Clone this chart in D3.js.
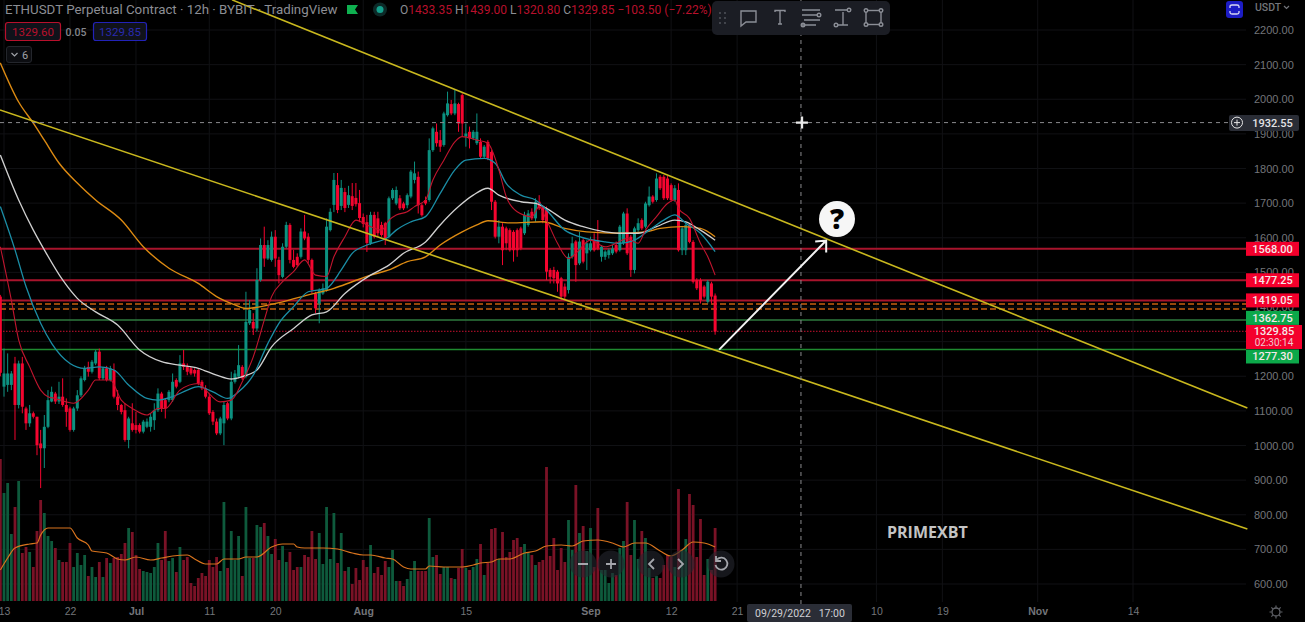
<!DOCTYPE html>
<html>
<head>
<meta charset="utf-8">
<style>
	html, body { margin: 0; padding: 0; background: #000; overflow: hidden; }
	svg { display: block; font-family: Roboto, sans-serif; }
	.domain { display: none; }
</style>
<script src="https://cdn.jsdelivr.net/npm/d3@7/dist/d3.min.js"></script>
</head>
<body>
<div id="chart"></div>
<script>
// candles, first one is the half day before Jun 13
var opens = [1430,
	1170,1175,1175,1237,1117,1237,1107,1064,1093,1083,
	1006,992,1054,1127,1150,1127,1141,1117,1107,1045,
	1107,1145,1189,1227,1213,1237,1271,1194,1223,1189,
	1218,1141,1117,1102,1016,1064,1059,1059,1040,1054,
	1054,1073,1102,1150,1131,1131,1131,1189,1184,1237,
	1227,1223,1218,1218,1184,1165,1141,1097,1069,1035,
	1064,1122,1078,1184,1199,1227,1199,1353,1357,1338,
	1478,1579,1540,1536,1603,1536,1487,1574,1637,1536,
	1545,1545,1618,1603,1536,1439,1410,1439,1449,1622,
	1695,1752,1692,1732,1695,1720,1715,1700,1660,1645,
	1584,1666,1656,1637,1642,1603,1714,1699,1714,1699,
	1694,1719,1767,1776,1694,1709,1709,1853,1906,1882,
	1868,1954,1986,1959,1986,2012,1892,1906,1887,1873,
	1877,1834,1877,1848,1704,1603,1632,1627,1622,1617,
	1622,1627,1613,1637,1675,1656,1704,1690,1680,1507,
	1507,1502,1483,1459,1449,1545,1589,1526,1593,1555,
	1564,1593,1593,1545,1545,1550,1555,1579,1564,1584,
	1670,1603,1507,1622,1651,1632,1694,1719,1709,1776,
	1776,1771,1752,1709,1738,1564,1564,1637,1588,1478,
	1478,1459,1415,1468,1433];
var closes = [1210,
	1208,1208,1208,1117,1237,1112,1064,1093,1083,1001,
	992,1054,1131,1155,1127,1141,1117,1097,1045,1107,
	1145,1194,1223,1213,1242,1271,1194,1223,1189,1223,
	1141,1117,1097,1016,1078,1045,1045,1040,1069,1069,
	1083,1102,1150,1107,1107,1155,1184,1170,1237,1227,
	1213,1208,1208,1179,1165,1141,1093,1069,1035,1078,
	1117,1078,1184,1208,1232,1194,1357,1391,1338,1478,
	1579,1540,1579,1603,1540,1492,1574,1637,1536,1516,
	1521,1618,1598,1536,1449,1396,1449,1454,1632,1675,
	1767,1680,1744,1686,1723,1692,1697,1657,1640,1585,
	1666,1603,1613,1608,1598,1714,1738,1738,1685,1685,
	1723,1791,1786,1694,1665,1699,1853,1916,1873,1863,
	1959,1988,1959,1988,1930,1930,1901,1887,1906,1906,
	1834,1863,1829,1704,1603,1632,1564,1584,1564,1564,
	1564,1569,1666,1670,1656,1704,1685,1651,1502,1487,
	1483,1468,1430,1430,1545,1584,1521,1589,1531,1584,
	1584,1564,1569,1574,1560,1564,1569,1560,1632,1670,
	1555,1507,1627,1642,1627,1699,1719,1704,1771,1743,
	1714,1714,1709,1743,1564,1627,1637,1588,1473,1454,
	1420,1430,1473,1430,1329];
var highs = [1435,
	1280,1266,1215,1256,1245,1256,1112,1117,1098,1083,
	1045,1088,1160,1170,1155,1184,1194,1136,1112,1112,
	1160,1200,1230,1242,1247,1276,1280,1227,1230,1230,
	1237,1160,1120,1122,1083,1122,1097,1064,1074,1078,
	1093,1122,1165,1155,1135,1160,1208,1194,1261,1276,
	1237,1227,1223,1223,1189,1174,1150,1102,1078,1083,
	1126,1126,1213,1218,1290,1232,1444,1420,1382,1512,
	1598,1632,1593,1618,1622,1545,1584,1646,1642,1565,
	1555,1627,1666,1613,1540,1444,1454,1468,1656,1685,
	1787,1787,1767,1744,1750,1758,1758,1738,1670,1666,
	1675,1675,1675,1646,1646,1719,1743,1748,1723,1704,
	1728,1796,1820,1791,1699,1719,1887,1921,1930,1911,
	1964,2022,1998,2027,1990,2017,1930,1921,1911,1959,
	1887,1868,1882,1853,1709,1651,1642,1632,1627,1622,
	1627,1632,1675,1680,1685,1714,1723,1694,1690,1512,
	1516,1507,1487,1468,1555,1603,1593,1617,1598,1593,
	1603,1613,1651,1579,1564,1569,1579,1589,1637,1675,
	1685,1608,1632,1656,1656,1704,1748,1723,1786,1781,
	1781,1778,1757,1752,1757,1632,1642,1642,1593,1483,
	1483,1463,1478,1473,1439];
var lows = [1200,
	1141,1155,1160,1016,1107,1093,1045,1054,1078,972,
	877,935,1050,1125,1120,1120,1112,1054,1040,1040,
	1100,1140,1185,1199,1208,1232,1189,1189,1185,1185,
	1136,1102,1090,1011,992,1040,1035,1035,1035,1050,
	1040,1045,1097,1097,1078,1125,1126,1165,1180,1218,
	1203,1203,1199,1174,1160,1136,1088,1059,1030,1030,
	1001,1073,1073,1179,1194,1189,1194,1348,1319,1329,
	1473,1516,1536,1531,1516,1468,1483,1569,1526,1512,
	1516,1540,1593,1526,1439,1382,1353,1435,1444,1618,
	1674,1671,1680,1674,1686,1680,1690,1645,1630,1559,
	1579,1598,1603,1603,1579,1598,1709,1694,1680,1680,
	1685,1714,1757,1670,1661,1694,1704,1848,1863,1848,
	1863,1950,1954,1954,1906,1892,1863,1858,1882,1868,
	1829,1829,1824,1680,1598,1584,1521,1564,1560,1531,
	1545,1564,1608,1632,1651,1646,1680,1642,1478,1468,
	1468,1444,1420,1420,1439,1540,1473,1521,1526,1507,
	1560,1560,1564,1531,1536,1540,1550,1555,1560,1579,
	1550,1487,1497,1617,1622,1627,1690,1699,1704,1738,
	1709,1709,1704,1704,1560,1550,1550,1584,1468,1449,
	1410,1425,1410,1410,1320];
var volumes = [142,
	108,118,67,94,120,48,54,49,34,70,
	101,88,65,60,53,41,39,39,58,34,
	48,36,46,25,34,24,39,24,43,38,
	43,44,47,58,73,69,46,32,30,29,
	28,34,58,41,70,40,43,29,54,41,
	44,18,15,23,28,25,41,34,44,30,
	99,33,70,41,65,25,94,43,43,76,
	74,78,65,47,62,41,55,39,49,31,
	34,34,46,44,70,42,68,37,94,42,
	88,38,68,30,34,17,33,21,41,34,
	56,28,34,26,40,34,51,20,20,15,
	22,30,40,30,30,30,83,44,46,27,
	34,34,23,22,33,52,33,31,34,42,
	57,26,38,72,73,42,69,44,49,61,
	63,54,57,48,46,36,39,41,134,45,
	63,31,53,39,81,51,116,68,75,50,
	73,34,93,31,31,18,28,26,53,60,
	99,46,81,42,70,63,33,23,25,23,
	36,46,44,34,112,51,62,107,96,44,
	82,26,42,31,73];

// moving averages read at a few bars, [bar, price]
var redAvg = [[-1,1574],[2,1420],[4,1305],[7,1227],[10,1160],[12,1141],[14,1136],[17,1126],[19,1122],[23,1160],[25,1189],[29,1189],[32,1131],[35,1107],[39,1088],[42,1107],[44,1107],[48,1160],[53,1179],[55,1160],[59,1126],[62,1131],[65,1184],[68,1256],[71,1362],[73,1430],[76,1473],[79,1502],[82,1536],[85,1492],[88,1488],[90,1545],[93,1603],[96,1651],[99,1637],[103,1622],[105,1651],[107,1666],[110,1675],[112,1690],[115,1709],[117,1767],[120,1824],[123,1877],[125,1892],[129,1882],[132,1873],[135,1796],[137,1719],[140,1675],[144,1661],[146,1690],[148,1651],[151,1584],[154,1540],[156,1555],[160,1593],[164,1574],[167,1584],[170,1598],[173,1584],[175,1622],[178,1661],[181,1699],[183,1709],[184,1685],[187,1656],[190,1584],[192,1545],[194,1492]];
var tealAvg = [[-1,1690],[3,1565],[6,1459],[10,1353],[13,1295],[18,1237],[22,1223],[26,1227],[30,1218],[34,1175],[39,1136],[42,1131],[46,1141],[50,1160],[53,1170],[57,1155],[61,1136],[64,1155],[68,1203],[72,1295],[75,1353],[79,1401],[83,1444],[88,1454],[92,1507],[95,1555],[99,1579],[105,1603],[107,1622],[111,1646],[115,1661],[119,1728],[123,1796],[126,1824],[131,1829],[134,1815],[137,1757],[141,1723],[145,1709],[148,1680],[153,1622],[157,1603],[164,1588],[168,1584],[172,1593],[176,1622],[180,1651],[183,1666],[186,1642],[190,1613],[194,1560]];
var whiteAvg = [[-1,1839],[4,1709],[8,1622],[11,1565],[16,1478],[20,1425],[25,1386],[31,1348],[37,1276],[43,1242],[48,1232],[53,1223],[58,1203],[62,1192],[65,1199],[69,1218],[73,1285],[79,1338],[84,1377],[88,1386],[93,1439],[100,1492],[105,1521],[109,1555],[115,1588],[119,1637],[124,1690],[128,1723],[132,1743],[135,1723],[141,1704],[145,1699],[148,1685],[153,1651],[158,1632],[164,1617],[168,1613],[173,1613],[178,1632],[183,1651],[186,1646],[190,1622],[194,1593]];
var orangeAvg = [[-1,2105],[4,1992],[8,1931],[11,1882],[15,1816],[20,1758],[25,1709],[32,1651],[38,1574],[45,1512],[53,1468],[58,1430],[63,1406],[66,1396],[69,1399],[76,1415],[83,1435],[90,1454],[95,1473],[100,1492],[105,1507],[110,1531],[115,1545],[119,1579],[125,1617],[129,1637],[132,1649],[138,1643],[147,1646],[153,1627],[159,1617],[168,1613],[175,1617],[179,1627],[185,1632],[190,1627],[194,1603]];
var volumeAvg = [[-1,31],[1,43],[3,53],[7,57],[9,58],[10,66],[12,73],[15,73],[18,73],[20,63],[23,56],[24,50],[28,48],[31,42],[33,41],[36,44],[40,41],[43,43],[46,45],[50,46],[52,42],[55,37],[58,37],[60,42],[64,42],[66,44],[69,44],[73,54],[76,57],[79,57],[80,54],[82,53],[85,53],[87,53],[91,52],[95,48],[98,46],[100,46],[104,43],[106,42],[109,34],[111,32],[115,32],[116,35],[120,34],[125,34],[128,36],[130,38],[133,39],[135,42],[138,42],[142,48],[145,50],[148,55],[152,56],[155,55],[158,60],[162,61],[166,58],[169,54],[172,58],[175,58],[179,50],[182,45],[185,51],[188,59],[191,58],[194,54]];

// drawings on the chart, [bar, price]
var upperTrend = [[62.2,2287],[339.2,1108]];
var lowerTrend = [[-1.1,1969],[339.2,759]];
var arrowLine = [[195.1,1277],[224.3,1592]];
var levelPrices = [1568, 1477.25, 1419.05, 1362.75, 1277.3];
var levelLabels = ["1568.00", "1477.25", "1419.05", "1362.75", "1277.30"];
var orangeLevels = [1409, 1394];
var lastPrice = 1329.85;
var crossPrice = 1932.55;
var crossDate = new Date(Date.UTC(2022, 8, 29, 17));

var priceTicks = d3.range(600, 2201, 100);
var dateTicks = [
	new Date(Date.UTC(2022, 5, 13)), new Date(Date.UTC(2022, 5, 22)), new Date(Date.UTC(2022, 6, 1)),
	new Date(Date.UTC(2022, 6, 11)), new Date(Date.UTC(2022, 6, 20)), new Date(Date.UTC(2022, 7, 1)),
	new Date(Date.UTC(2022, 7, 15)), new Date(Date.UTC(2022, 8, 1)), new Date(Date.UTC(2022, 8, 12)),
	new Date(Date.UTC(2022, 8, 21)), new Date(Date.UTC(2022, 9, 10)), new Date(Date.UTC(2022, 9, 19)),
	new Date(Date.UTC(2022, 10, 1)), new Date(Date.UTC(2022, 10, 14)),
];
var dateLabels = ["13", "22", "Jul", "11", "20", "Aug", "15", "Sep", "12", "21", "10", "19", "Nov", "14"];
var boldLabels = ["Jul", "Aug", "Sep", "Nov"];

var width = 1305;
var height = 622;
var plotRight = 1246;
var plotBottom = 602;

var upColor = "#0c9180";
var downColor = "#f5052f";
var tagRed = "#f4002c";
var tagGreen = "#0ca84a";

var svg = d3
	.select("#chart")
	.append("svg")
	.attr("width", width)
	.attr("height", height);

svg.append("rect").attr("width", width).attr("height", height).attr("fill", "#000");

var xScale = d3
	.scaleUtc()
	.domain([dateTicks[0], dateTicks[dateTicks.length - 1]])
	.range([4, 1133]);
var yScale = d3.scaleLinear().domain([600, 2200]).range([584, 30]);
var volScale = d3.scaleLinear().domain([0, 140]).range([601, 461]);

// bar number counts half days from Jun 13
function barDate(bar) {
	return new Date(dateTicks[0].getTime() + bar * 12 * 3600 * 1000);
}
function barX(bar) {
	return xScale(barDate(bar));
}

var candles = opens.map((open, n) => ({
	bar: n - 1,
	open: open,
	close: closes[n],
	high: highs[n],
	low: lows[n],
	volume: volumes[n],
}));

// faint grid
var gridGroup = svg.append("g").attr("stroke", "#101114").attr("stroke-width", 1);
gridGroup
	.selectAll("line.h")
	.data(priceTicks)
	.enter()
	.append("line")
	.attr("class", "h")
	.attr("x1", 0)
	.attr("x2", plotRight)
	.attr("y1", (d) => yScale(d))
	.attr("y2", (d) => yScale(d));
gridGroup
	.selectAll("line.v")
	.data(dateTicks)
	.enter()
	.append("line")
	.attr("class", "v")
	.attr("x1", (d) => xScale(d))
	.attr("x2", (d) => xScale(d))
	.attr("y1", 0)
	.attr("y2", plotBottom);

// volume bars and their average
svg
	.append("g")
	.selectAll("rect")
	.data(candles)
	.enter()
	.append("rect")
	.attr("x", (d) => barX(d.bar) - 1.4)
	.attr("width", 2.8)
	.attr("y", (d) => volScale(d.volume))
	.attr("height", (d) => volScale(0) - volScale(d.volume))
	.attr("fill", (d) => (d.close >= d.open ? "#0e5a3c" : "#7a1226"));

var avgLine = d3
	.line()
	.x((d) => barX(d[0]))
	.y((d) => yScale(d[1]))
	.curve(d3.curveMonotoneX);

svg
	.append("path")
	.attr("fill", "none")
	.attr("stroke", "#d9741e")
	.attr("stroke-width", 1.2)
	.attr(
		"d",
		d3
			.line()
			.x((d) => barX(d[0]))
			.y((d) => volScale(d[1]))
			.curve(d3.curveMonotoneX)(volumeAvg)
	);

// level lines, the green ones are the last two
var levelGroup = svg.append("g");
levelGroup
	.selectAll("line")
	.data(levelPrices)
	.enter()
	.append("line")
	.attr("x1", 0)
	.attr("x2", plotRight)
	.attr("y1", (d) => yScale(d))
	.attr("y2", (d) => yScale(d))
	.attr("stroke", (d, i) => (i < 3 ? "#a8142c" : i == 3 ? "#2e7a3e" : "#1f8a30"))
	.attr("stroke-width", (d, i) => (i < 3 ? 2 : 1.5));
orangeLevels.forEach((level) => {
	levelGroup
		.append("line")
		.attr("x1", 0)
		.attr("x2", plotRight)
		.attr("y1", yScale(level))
		.attr("y2", yScale(level))
		.attr("stroke", "#c8600f")
		.attr("stroke-width", 1.5)
		.attr("stroke-dasharray", "6,3");
});
levelGroup
	.append("line")
	.attr("x1", 0)
	.attr("x2", plotRight)
	.attr("y1", yScale(lastPrice))
	.attr("y2", yScale(lastPrice))
	.attr("stroke", "#c8102e")
	.attr("stroke-width", 1)
	.attr("stroke-dasharray", "1.5,1.5");

// candles
var candleGroup = svg.append("g");
candleGroup
	.selectAll("line")
	.data(candles)
	.enter()
	.append("line")
	.attr("x1", (d) => barX(d.bar))
	.attr("x2", (d) => barX(d.bar))
	.attr("y1", (d) => yScale(d.high))
	.attr("y2", (d) => yScale(d.low))
	.attr("stroke", (d) => (d.close >= d.open ? upColor : downColor))
	.attr("stroke-width", 1);
candleGroup
	.selectAll("rect")
	.data(candles)
	.enter()
	.append("rect")
	.attr("x", (d) => barX(d.bar) - 1.5)
	.attr("width", 3)
	.attr("y", (d) => yScale(Math.max(d.open, d.close)))
	.attr("height", (d) => Math.max(1, Math.abs(yScale(d.open) - yScale(d.close))))
	.attr("fill", (d) => (d.close >= d.open ? upColor : downColor));

// moving averages
[
	[orangeAvg, "#dc8a12", 1.4],
	[whiteAvg, "#d0d0d0", 1.3],
	[tealAvg, "#1b8ea6", 1.3],
	[redAvg, "#c0152e", 1.1],
].forEach((item) => {
	svg
		.append("path")
		.attr("fill", "none")
		.attr("stroke", item[1])
		.attr("stroke-width", item[2])
		.attr("d", avgLine(item[0]));
});

// trend lines
[upperTrend, lowerTrend].forEach((trend) => {
	svg
		.append("path")
		.attr("fill", "none")
		.attr("stroke", "#c9b81e")
		.attr("stroke-width", 1.6)
		.attr("d", d3.line().x((d) => barX(d[0])).y((d) => yScale(d[1]))(trend));
});

// crosshair
var crossX = xScale(crossDate);
var crossY = yScale(crossPrice);
var crossGroup = svg
	.append("g")
	.attr("stroke", "#8a8a8e")
	.attr("stroke-width", 1)
	.attr("stroke-dasharray", "4,4");
crossGroup.append("line").attr("x1", 0).attr("x2", 1228).attr("y1", crossY).attr("y2", crossY);
crossGroup.append("line").attr("x1", crossX).attr("x2", crossX).attr("y1", 0).attr("y2", plotBottom + 2);
svg
	.append("path")
	.attr("d", `M${crossX - 5},${crossY}H${crossX + 7}M${crossX + 1},${crossY - 6}V${crossY + 6}`)
	.attr("stroke", "#e8e8e8")
	.attr("stroke-width", 2.4);

// arrow with question mark
var arrowFrom = [barX(arrowLine[0][0]), yScale(arrowLine[0][1])];
var arrowTo = [barX(arrowLine[1][0]), yScale(arrowLine[1][1])];
svg
	.append("path")
	.attr("fill", "none")
	.attr("stroke", "#f2f2f2")
	.attr("stroke-width", 2)
	.attr(
		"d",
		`M${arrowFrom[0]},${arrowFrom[1]}L${arrowTo[0]},${arrowTo[1]}` +
			`M${arrowTo[0] - 11},${arrowTo[1] + 1}L${arrowTo[0]},${arrowTo[1]}L${arrowTo[0]},${arrowTo[1] + 12}`
	);
svg.append("circle").attr("cx", 837).attr("cy", 219).attr("r", 18).attr("fill", "#f6f6f6");
svg
	.append("text")
	.attr("x", 837)
	.attr("y", 229)
	.attr("text-anchor", "middle")
	.attr("font-size", 28)
	.attr("font-weight", 900)
	.attr("font-family", "'Open Sans', sans-serif")
	.attr("fill", "#000")
	.text("?");

svg
	.append("text")
	.attr("x", 887)
	.attr("y", 538)
	.attr("font-size", 16)
	.attr("font-weight", 700)
	.attr("font-family", "'Open Sans', sans-serif")
	.attr("fill", "#c4c4c4")
	.text("PRIMEXBT");

// axes, 1300 sits fully under the last price tag
var yAxis = svg
	.append("g")
	.attr("transform", "translate(1254,0)")
	.call(
		d3
			.axisRight(yScale)
			.tickValues(priceTicks.filter((d) => d != 1300))
			.tickSize(0)
			.tickPadding(0)
			.tickFormat(d3.format(".2f"))
	);
yAxis.selectAll("text").attr("fill", "#73757a").attr("font-size", 11);

var xAxis = svg
	.append("g")
	.attr("transform", "translate(0,602)")
	.call(
		d3
			.axisBottom(xScale)
			.tickValues(dateTicks)
			.tickSize(0)
			.tickPadding(6)
			.tickFormat((d, i) => dateLabels[i])
	);
xAxis
	.selectAll("text")
	.attr("fill", "#73757a")
	.attr("font-size", 10.5)
	.attr("font-weight", (d, i) => (boldLabels.indexOf(dateLabels[i]) >= 0 ? 700 : 400));

// price tags, pushed apart like the platform does when they crowd
var tagShift = [0, 0, 0, -2, 7];
levelPrices.forEach((price, i) => {
	var y = yScale(price) + tagShift[i];
	svg
		.append("rect")
		.attr("x", plotRight)
		.attr("y", y - 7)
		.attr("width", 53)
		.attr("height", 14)
		.attr("fill", i < 3 ? tagRed : tagGreen);
	svg
		.append("text")
		.attr("x", 1272.5)
		.attr("y", y + 4)
		.attr("text-anchor", "middle")
		.attr("font-size", 11)
		.attr("font-weight", 500)
		.attr("fill", "#f4e8ea")
		.text(levelLabels[i]);
});

svg.append("rect").attr("x", plotRight).attr("y", 325).attr("width", 56).attr("height", 24).attr("fill", tagRed);
svg
	.append("text")
	.attr("x", 1274)
	.attr("y", 335)
	.attr("text-anchor", "middle")
	.attr("font-size", 11)
	.attr("font-weight", 500)
	.attr("fill", "#f4e8ea")
	.text("1329.85");
svg
	.append("text")
	.attr("x", 1274)
	.attr("y", 346)
	.attr("text-anchor", "middle")
	.attr("font-size", 10)
	.attr("fill", "#f0c8d0")
	.text("02:30:14");

// crosshair tag
svg.append("rect").attr("x", 1229).attr("y", 115).attr("width", 70).attr("height", 16).attr("rx", 2).attr("fill", "#2a2d36");
svg.append("circle").attr("cx", 1237).attr("cy", crossY).attr("r", 5.5).attr("fill", "none").attr("stroke", "#e6e6e6").attr("stroke-width", 1);
svg
	.append("path")
	.attr("d", `M1234,${crossY}H1240M1237,${crossY - 3}V${crossY + 3}`)
	.attr("stroke", "#e6e6e6");
svg
	.append("text")
	.attr("x", 1272.5)
	.attr("y", crossY + 4)
	.attr("text-anchor", "middle")
	.attr("font-size", 11)
	.attr("font-weight", 500)
	.attr("fill", "#e4e4e6")
	.text("1932.55");

// date tag
svg.append("rect").attr("x", 747).attr("y", 604).attr("width", 105).attr("height", 18).attr("rx", 2).attr("fill", "#2a2d36");
svg
	.append("text")
	.attr("x", 755)
	.attr("y", 617)
	.attr("font-size", 10.5)
	.attr("fill", "#d0d0d4")
	.attr("xml:space", "preserve")
	.text("09/29/2022   17:00");

// header
svg
	.append("text")
	.attr("x", 5)
	.attr("y", 14)
	.attr("font-size", 13.3)
	.attr("fill", "#8c8e94")
	.text("ETHUSDT Perpetual Contract · 12h · BYBIT · TradingView");
svg.append("path").attr("d", "M347,5H358L355,9.5L358,14H347Z").attr("fill", "#0fb050");
svg.append("circle").attr("cx", 380).attr("cy", 9.5).attr("r", 7).attr("fill", "#0c2a28");
svg.append("circle").attr("cx", 380).attr("cy", 9.5).attr("r", 3.5).attr("fill", "#14a08c");

var ohlcText = svg
	.append("text")
	.attr("x", 400)
	.attr("y", 14)
	.attr("font-size", 12)
	.attr("fill", "#b8102c");
[
	["O", "#8c8e94"], ["1433.35 ", ""],
	["H", "#8c8e94"], ["1439.00 ", ""],
	["L", "#8c8e94"], ["1320.80 ", ""],
	["C", "#8c8e94"], ["1329.85 ", ""],
	["−103.50 (−7.22%)", ""],
].forEach((part) => {
	var span = ohlcText.append("tspan").text(part[0]);
	if (part[1]) span.attr("fill", part[1]);
});

svg.append("rect").attr("x", 5.5).attr("y", 22.5).attr("width", 55).attr("height", 18).attr("rx", 2.5).attr("fill", "#10121a").attr("stroke", "#b8102c").attr("stroke-width", 1.2);
svg.append("text").attr("x", 33).attr("y", 36).attr("text-anchor", "middle").attr("font-size", 11.5).attr("fill", "#b8102c").text("1329.60");
svg.append("text").attr("x", 76).attr("y", 36).attr("text-anchor", "middle").attr("font-size", 10.5).attr("font-weight", 500).attr("fill", "#84868c").text("0.05");
svg.append("rect").attr("x", 93.5).attr("y", 22.5).attr("width", 53).attr("height", 18).attr("rx", 2.5).attr("fill", "#10121a").attr("stroke", "#2222b8").attr("stroke-width", 1.2);
svg.append("text").attr("x", 120).attr("y", 36).attr("text-anchor", "middle").attr("font-size", 11.5).attr("fill", "#2a2ab0").text("1329.85");
svg.append("rect").attr("x", 6.5).attr("y", 46.5).attr("width", 25).attr("height", 16).attr("rx", 2.5).attr("fill", "#0c0d11").attr("stroke", "#24262c");
svg.append("path").attr("d", "M11.5,53L14.5,56L17.5,53").attr("fill", "none").attr("stroke", "#a0a2a8").attr("stroke-width", 1.2);
svg.append("text").attr("x", 25).attr("y", 59).attr("text-anchor", "middle").attr("font-size", 11).attr("fill", "#a0a2a8").text("6");

// floating drawing toolbar
var toolbar = svg.append("g").attr("fill", "none").attr("stroke", "#8b8e96").attr("stroke-width", 1.4);
toolbar.append("rect").attr("x", 712).attr("y", 1).attr("width", 178).attr("height", 34).attr("rx", 5).attr("fill", "#1b1d24").attr("stroke", "none");
d3.range(3).forEach((row) => {
	[0, 1].forEach((col) => {
		toolbar.append("circle").attr("cx", 720 + col * 5).attr("cy", 13 + row * 5).attr("r", 0.9).attr("fill", "#555860").attr("stroke", "none");
	});
});
toolbar.append("path").attr("d", "M741,11H756V22H746L741,26Z");
toolbar.append("path").attr("d", "M775,12V10.5H785V12M780,10.5V24M778,24H782");
toolbar.append("path").attr("d", "M802,10H820M802,15H817M804,20H820M802,25H816");
toolbar.append("circle").attr("cx", 819).attr("cy", 15).attr("r", 1.8);
toolbar.append("circle").attr("cx", 803).attr("cy", 25).attr("r", 1.8);
toolbar.append("path").attr("d", "M835,10H847M843,12V25M838,25H848");
toolbar.append("circle").attr("cx", 849).attr("cy", 10).attr("r", 1.8);
toolbar.append("circle").attr("cx", 836).attr("cy", 25).attr("r", 1.8);
toolbar.append("rect").attr("x", 866).attr("y", 10.5).attr("width", 15).attr("height", 14);
[[866, 10.5], [881, 10.5], [866, 24.5], [881, 24.5]].forEach((c) => {
	toolbar.append("circle").attr("cx", c[0]).attr("cy", c[1]).attr("r", 1.8).attr("fill", "#1b1d24");
});

// zoom buttons at the bottom
var buttons = svg.append("g");
[583, 611, 651, 681, 721].forEach((cx) => {
	buttons.append("circle").attr("cx", cx).attr("cy", 564).attr("r", 13.5).attr("fill", "#24262e").attr("fill-opacity", 0.6);
});
buttons
	.append("path")
	.attr("fill", "none")
	.attr("stroke", "#a4a6ac")
	.attr("stroke-width", 1.8)
	.attr(
		"d",
		"M578,564H588M606,564H616M611,559V569M654,559L649,564L654,569M678,559L683,564L678,569" +
			"M717,559.5A6,6 0 1 1 715.5,565M716,556V561H721"
	);

// top right corner
svg.append("rect").attr("x", 1226).attr("y", 1).attr("width", 17).attr("height", 17).attr("rx", 3).attr("fill", "#1c1cc4");
svg
	.append("path")
	.attr("d", "M1230,8V6.5Q1230,5 1232,5H1237Q1239,5 1239,6.5V8M1230,11V12.5Q1230,14 1232,14H1237Q1239,14 1239,12.5V11")
	.attr("fill", "none")
	.attr("stroke", "#d8d8f4")
	.attr("stroke-width", 1.3);
svg.append("text").attr("x", 1255).attr("y", 11).attr("font-size", 10.5).attr("font-weight", 500).attr("fill", "#73757a").text("USDT");
svg.append("path").attr("d", "M1284,6L1286.5,8.5L1289,6").attr("fill", "none").attr("stroke", "#73757a").attr("stroke-width", 1.2);

// settings gear
svg.append("circle").attr("cx", 1276).attr("cy", 612).attr("r", 4).attr("fill", "none").attr("stroke", "#62646a").attr("stroke-width", 1.3);
svg
	.append("path")
	.attr("d", "M1276,605.5V607.5M1276,616.5V618.5M1269.5,612H1271.5M1280.5,612H1282.5M1271.4,607.4L1272.8,608.8M1279.2,615.2L1280.6,616.6M1271.4,616.6L1272.8,615.2M1279.2,608.8L1280.6,607.4")
	.attr("stroke", "#62646a")
	.attr("stroke-width", 1.2);
</script>
</body>
</html>
